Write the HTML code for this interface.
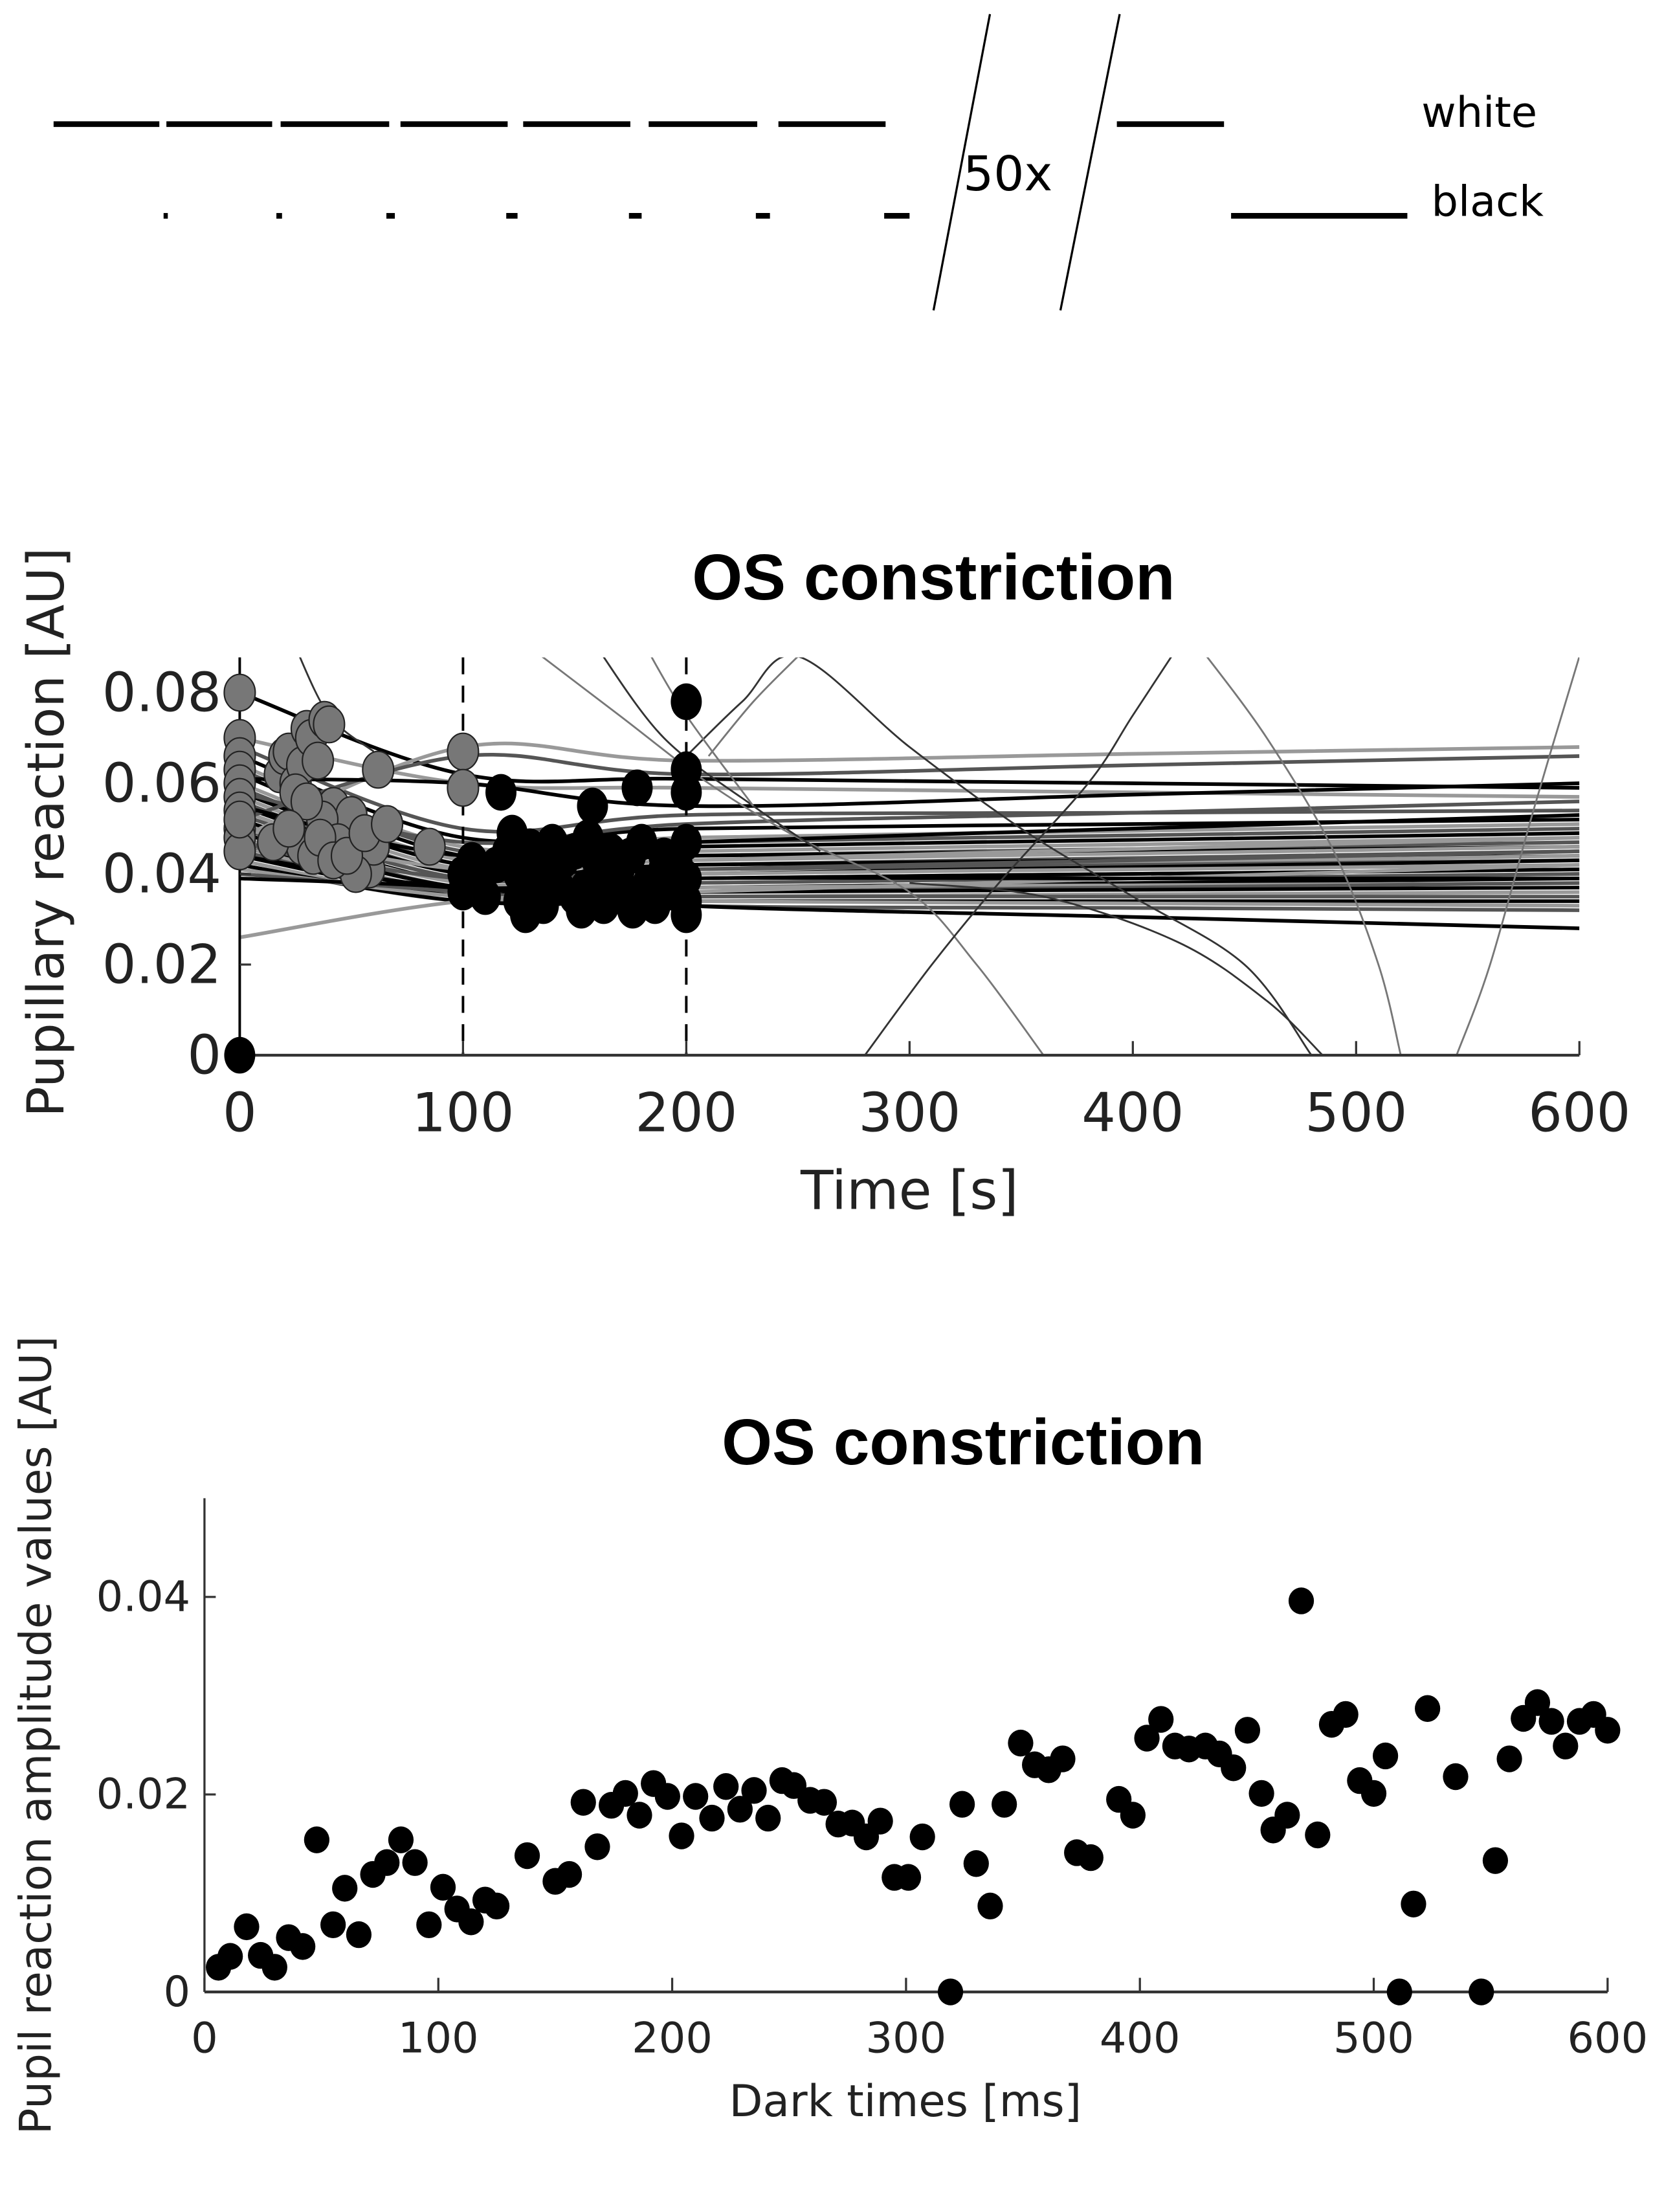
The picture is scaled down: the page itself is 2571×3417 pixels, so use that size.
<!DOCTYPE html>
<html><head><meta charset="utf-8">
<style>
html,body{margin:0;padding:0;background:#fff;}
svg{display:block;}
text{font-family:"DejaVu Sans","Liberation Sans",sans-serif;}
.ttl{font-family:"Liberation Sans",sans-serif;font-weight:bold;}
</style></head>
<body>
<svg id="fig" width="2571" height="3417" viewBox="0 0 1180 1568" preserveAspectRatio="none" xmlns="http://www.w3.org/2000/svg">
  <g id="schema" stroke="#000" fill="none"></g>
  <text x="1008" y="90" font-size="30" font-family="Liberation Sans">white</text>
  <text x="1015" y="153" font-size="30" font-family="Liberation Sans">black</text>
  <text x="683" y="135" font-size="34" font-family="Liberation Sans">50x</text>

  <g id="chart1"></g>
  <text class="ttl" x="662" y="425" font-size="46" text-anchor="middle">OS constriction</text>
  <text x="645" y="857" font-size="38" text-anchor="middle" fill="#222">Time [s]</text>
  <text transform="translate(45,590) rotate(-90)" font-size="36" text-anchor="middle" fill="#222">Pupillary reaction [AU]</text>

  <g id="chart2"></g>
  <text class="ttl" x="683" y="1038" font-size="46" text-anchor="middle">OS constriction</text>
  <text x="642" y="1500" font-size="31" text-anchor="middle" fill="#222">Dark times [ms]</text>
  <text transform="translate(36,1230) rotate(-90)" font-size="31" text-anchor="middle" fill="#222">Pupil reaction amplitude values [AU]</text>
</svg>
<script>
const NS="http://www.w3.org/2000/svg";
function mk(parent,tag,attrs){const e=document.createElementNS(NS,tag);for(const k in attrs)e.setAttribute(k,attrs[k]);parent.appendChild(e);return e;}

// ---------- schematic ----------
const whiteSegs=[[38,113],[118,193],[199,276],[284,360],[371,447],[460,537],[552,628],[792,868]];
const blackSegs=[[116,119],[196,200],[274,280],[359,367],[446,455],[536,546],[627,645],[873,998]];
const sch=document.getElementById('schema');
whiteSegs.forEach(s=>{const l=mk(sch,'line',{x1:s[0],x2:s[1],y1:88,y2:88,'stroke-width':4});

});
blackSegs.forEach(s=>{const l=mk(sch,'line',{x1:s[0],x2:s[1],y1:153,y2:153,'stroke-width':4});

});
[[662,220,702,10],[752,220,794,10]].forEach(p=>{const l=mk(sch,'line',{x1:p[0],y1:p[1],x2:p[2],y2:p[3],'stroke-width':1.5});

});

// ---------- chart 1 data ----------
const c1XTicks=[0,100,200,300,400,500,600];
const c1YTicks=[0,0.02,0.04,0.06,0.08];
const curveAt0  =[0.080,0.070,0.068,0.066,0.064,0.063,0.062,0.060,0.059,0.058,0.057,0.056,0.055,0.054,0.053,0.052,0.051,0.050,0.049,0.048,0.047,0.046,0.046,0.045,0.044,0.043,0.042,0.042,0.041,0.040,0.039,0.048,0.052,0.061,0.026,0.058,0.055,0.050,0.047,0.044];
const curveAt100=[0.062,0.060,0.050,0.048,0.046,0.045,0.044,0.043,0.042,0.042,0.041,0.040,0.040,0.039,0.039,0.038,0.038,0.037,0.037,0.036,0.036,0.036,0.035,0.035,0.035,0.034,0.034,0.034,0.035,0.036,0.037,0.068,0.066,0.060,0.034,0.047,0.044,0.041,0.039,0.037];
const curveAt200=[0.061,0.059,0.053,0.050,0.048,0.047,0.046,0.045,0.044,0.044,0.043,0.042,0.042,0.041,0.041,0.040,0.040,0.039,0.039,0.038,0.038,0.037,0.037,0.036,0.036,0.035,0.035,0.034,0.034,0.033,0.033,0.065,0.062,0.055,0.036,0.051,0.047,0.043,0.041,0.039];
const curveAt600=[0.059,0.057,0.054,0.052,0.051,0.050,0.049,0.048,0.047,0.046,0.046,0.045,0.044,0.044,0.043,0.043,0.042,0.041,0.041,0.040,0.040,0.039,0.038,0.038,0.037,0.036,0.035,0.034,0.033,0.032,0.028,0.068,0.066,0.060,0.042,0.056,0.053,0.048,0.045,0.039];
const wildCurves=[
 [[25,0.09],[40,0.075],[60,0.067]],
 [[130,0.09],[170,0.075],[210,0.06],[250,0.048],[300,0.036],[330,0.02],[360,0.0]],
 [[200,0.066],[225,0.078],[250,0.088],[300,0.068],[350,0.05],[400,0.035],[450,0.02],[480,0.0]],
 [[250,0.088],[230,0.078],[210,0.066]],
 [[280,0],[310,0.02],[340,0.038],[380,0.06],[400,0.075],[420,0.09]],
 [[430,0.09],[460,0.07],[490,0.045],[510,0.02],[520,0]],
 [[300,0.038],[360,0.035],[420,0.025],[460,0.012],[485,0]],
 [[545,0],[560,0.02],[580,0.055],[600,0.088]],
 [[160,0.09],[190,0.07],[230,0.055],[260,0.045]],
 [[182,0.09],[200,0.075],[230,0.055]]
];
const grayPtsX=[0,0,0,0,0,0,0,0,0,0,0,18,20,22,25,28,30,32,35,38,40,42,45,48,50,52,55,58,60,62,28,33,37,44,52,85,100,100,25,30,36,42,15,22,48,56,66];
const grayPtsY=[0.080,0.070,0.066,0.063,0.060,0.057,0.054,0.050,0.048,0.045,0.052,0.062,0.066,0.067,0.060,0.064,0.072,0.070,0.065,0.074,0.073,0.055,0.050,0.048,0.053,0.045,0.042,0.041,0.046,0.063,0.046,0.044,0.052,0.047,0.040,0.046,0.067,0.059,0.058,0.056,0.048,0.043,0.047,0.050,0.044,0.049,0.051];
const blackPtsX=[0,100,100,104,108,117,120,122,125,128,130,133,136,140,143,146,150,153,156,158,160,163,166,170,173,176,178,180,183,186,190,193,196,200,200,200,200,200,200,200,110,115,125,135,145,155,165,175,185,195,140,150,170,190,130,160];
const blackPtsY=[0,0.040,0.036,0.043,0.038,0.058,0.045,0.049,0.034,0.031,0.046,0.040,0.033,0.047,0.037,0.044,0.035,0.032,0.048,0.055,0.039,0.033,0.045,0.041,0.036,0.032,0.059,0.047,0.038,0.033,0.044,0.036,0.042,0.078,0.063,0.058,0.047,0.039,0.034,0.031,0.035,0.042,0.040,0.038,0.043,0.037,0.035,0.044,0.036,0.040,0.041,0.045,0.038,0.041,0.043,0.043];

const X1=v=>170+v*950/600, Y1=v=>748-v*3212.5;
const c1=document.getElementById('chart1');
const defs=mk(c1,'defs',{});
const cp=mk(defs,'clipPath',{id:'clip1'});mk(cp,'rect',{x:170,y:466,width:950,height:282});

function smoothPath(pts){let d='M'+pts[0][0]+','+pts[0][1];
 for(let i=0;i<pts.length-1;i++){const p0=pts[i-1]||pts[i],p1=pts[i],p2=pts[i+1],p3=pts[i+2]||p2;
  d+=` C${p1[0]+(p2[0]-p0[0])/6},${p1[1]+(p2[1]-p0[1])/6} ${p2[0]-(p3[0]-p1[0])/6},${p2[1]-(p3[1]-p1[1])/6} ${p2[0]},${p2[1]}`;}
 return d;}

const lg=mk(c1,'g',{'clip-path':'url(#clip1)',fill:'none'});
curveAt0.forEach((v,i)=>{
 const xs=[0,100,200,400,600], ys=[v,curveAt100[i],curveAt200[i],(curveAt200[i]+curveAt600[i])/2,curveAt600[i]];
 const p=mk(lg,'path',{d:smoothPath(xs.map((x,j)=>[X1(x),Y1(ys[j])])),stroke:i%3===1?'#999':(i%3===2?'#555':'#000'),'stroke-width':2.6});
 
 
});
wildCurves.forEach((c,i)=>{
 const p=mk(lg,'path',{d:smoothPath(c.map(q=>[X1(q[0]),Y1(q[1])])),stroke:i%2?'#777':'#333','stroke-width':1.3});
 
 
});
// axes
[100,200].forEach(t=>{const l=mk(c1,'line',{x1:X1(t),x2:X1(t),y1:466,y2:748,stroke:'#000','stroke-width':1.8,'stroke-dasharray':'12,8'});

});
const ya1=mk(c1,'line',{x1:170,x2:170,y1:466,y2:748,stroke:'#000','stroke-width':1.8});


const xa1=mk(c1,'line',{x1:170,x2:1120,y1:748,y2:748,stroke:'#333','stroke-width':2});


c1XTicks.forEach(t=>{mk(c1,'line',{x1:X1(t),x2:X1(t),y1:748,y2:738,stroke:'#333','stroke-width':1.5});
 const tx=mk(c1,'text',{x:X1(t),y:802,'font-size':38,'text-anchor':'middle',fill:'#222'});tx.textContent=t;
 
 });
c1YTicks.forEach(t=>{mk(c1,'line',{x1:170,x2:178,y1:Y1(t),y2:Y1(t),stroke:'#333','stroke-width':1.5});
 const tx=mk(c1,'text',{x:157,y:Y1(t)+13,'font-size':38,'text-anchor':'end',fill:'#222'});tx.textContent=t===0?'0':t.toFixed(2);
 
 });
grayPtsX.forEach((x,i)=>{const c=mk(c1,'ellipse',{cx:X1(x),cy:Y1(grayPtsY[i]),rx:11,ry:13,fill:'#777',stroke:'#222','stroke-width':1});
 
 });
blackPtsX.forEach((x,i)=>{const c=mk(c1,'ellipse',{cx:X1(x),cy:Y1(blackPtsY[i]),rx:11,ry:13,fill:'#000'});
 
 });

// ---------- chart 2 data ----------
const c2XTicks=[0,100,200,300,400,500,600];
const c2YTicks=[0,0.02,0.04];
const darkTimes=[6,11,18,24,30,36,42,48,55,60,66,72,78,84,90,96,102,108,114,120,125,138,150,156,162,168,174,180,186,192,198,204,210,217,223,229,235,241,247,252,259,265,271,277,283,289,295,301,307,319,324,330,336,342,349,355,361,367,373,379,391,397,403,409,415,421,428,434,440,446,452,457,463,469,476,482,488,494,500,505,511,517,523,535,546,552,558,564,570,576,582,588,594,600];
const amplitudes=[0.0025,0.0036,0.0066,0.0037,0.0025,0.0055,0.0046,0.0154,0.0068,0.0105,0.0058,0.0119,0.0131,0.0154,0.0131,0.0068,0.0106,0.0084,0.0071,0.0093,0.0087,0.0138,0.0112,0.0119,0.0192,0.0147,0.0189,0.0201,0.0179,0.0211,0.0198,0.0158,0.0198,0.0176,0.0208,0.0185,0.0204,0.0176,0.0214,0.0209,0.0194,0.0192,0.0170,0.0171,0.0157,0.0173,0.0116,0.0116,0.0157,0,0.019,0.013,0.0087,0.019,0.0252,0.023,0.0225,0.0236,0.0141,0.0136,0.0195,0.0179,0.0257,0.0276,0.0249,0.0246,0.0249,0.0241,0.0227,0.0265,0.0201,0.0164,0.0179,0.0396,0.0159,0.0271,0.0281,0.0214,0.0201,0.0239,0,0.0089,0.0287,0.0218,0,0.0133,0.0236,0.0277,0.0293,0.0274,0.0249,0.0274,0.0281,0.0265];

const X2=v=>145+v*995/600, Y2=v=>1412-v*7000;
const c2=document.getElementById('chart2');
const ya2=mk(c2,'line',{x1:145,x2:145,y1:1062,y2:1412,stroke:'#333','stroke-width':1.5});


const xa2=mk(c2,'line',{x1:145,x2:1140,y1:1412,y2:1412,stroke:'#333','stroke-width':2});


c2XTicks.forEach(t=>{mk(c2,'line',{x1:X2(t),x2:X2(t),y1:1412,y2:1402,stroke:'#333','stroke-width':1.5});
 const tx=mk(c2,'text',{x:X2(t),y:1455,'font-size':30,'text-anchor':'middle',fill:'#222'});tx.textContent=t;
 
 });
c2YTicks.forEach(t=>{mk(c2,'line',{x1:145,x2:153,y1:Y2(t),y2:Y2(t),stroke:'#333','stroke-width':1.5});
 const tx=mk(c2,'text',{x:135,y:Y2(t)+10,'font-size':30,'text-anchor':'end',fill:'#222'});tx.textContent=t===0?'0':t.toFixed(2);
 
 });
darkTimes.forEach((x,i)=>{const c=mk(c2,'ellipse',{cx:X2(x),cy:Y2(amplitudes[i]),rx:9,ry:9.5,fill:'#000'});
 
 });
</script>
</body></html>
